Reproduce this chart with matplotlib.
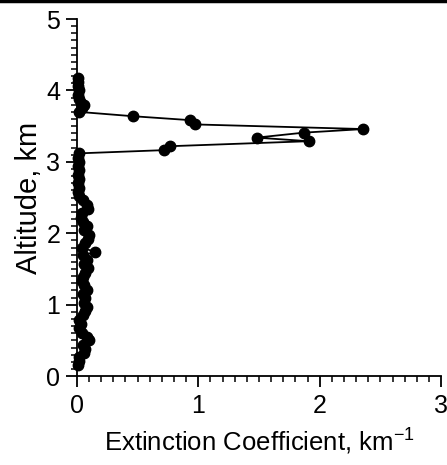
import matplotlib.pyplot as plt
from matplotlib.ticker import MultipleLocator

plt.rcParams['font.family'] = ['Liberation Sans', 'DejaVu Sans']

# altitude (km), bottom to top
altitude = [0.15, 0.21, 0.27, 0.33, 0.38, 0.44, 0.50, 0.55, 0.61, 0.67,
            0.73, 0.79, 0.85, 0.91, 0.97, 1.03, 1.09, 1.15, 1.21, 1.27,
            1.33, 1.39, 1.45, 1.51, 1.57, 1.63, 1.69, 1.74, 1.80, 1.86,
            1.92, 1.98, 2.04, 2.10, 2.16, 2.22, 2.28, 2.34, 2.40, 2.46,
            2.52, 2.58, 2.64, 2.70, 2.76, 2.82, 2.88, 2.94, 3.00, 3.06,
            3.12, 3.165, 3.22, 3.29, 3.34, 3.41, 3.46, 3.525, 3.585, 3.64,
            3.70, 3.76, 3.80, 3.83, 3.88, 3.94, 4.00, 4.06, 4.12, 4.18]
# extinction coefficient (km^-1)
extinction = [0.01, 0.02, 0.02, 0.06, 0.07, 0.05, 0.10, 0.08, 0.04, 0.02,
              0.03, 0.02, 0.05, 0.07, 0.08, 0.06, 0.07, 0.05, 0.08, 0.06,
              0.04, 0.05, 0.07, 0.09, 0.06, 0.08, 0.05, 0.15, 0.04, 0.07,
              0.09, 0.10, 0.06, 0.08, 0.05, 0.03, 0.04, 0.09, 0.08, 0.05,
              0.02, 0.01, 0.02, 0.01, 0.02, 0.01, 0.02, 0.01, 0.02, 0.01,
              0.02, 0.72, 0.77, 1.91, 1.48, 1.87, 2.36, 0.97, 0.93, 0.46,
              0.02, 0.04, 0.06, 0.03, 0.02, 0.01, 0.02, 0.01, 0.01, 0.01]

fig = plt.figure(figsize=(4.47, 4.65), dpi=100)
ax = fig.add_axes([0.172, 0.191, 0.815, 0.768])

ax.plot(extinction, altitude, color='black', lw=1.3, marker='o', ms=7.5,
        clip_on=False, zorder=3)

ax.set_xlim(0, 3)
ax.set_ylim(0, 5)
ax.xaxis.set_major_locator(MultipleLocator(1))
ax.xaxis.set_minor_locator(MultipleLocator(0.1))
ax.yaxis.set_major_locator(MultipleLocator(1))
ax.yaxis.set_minor_locator(MultipleLocator(0.1))

ax.spines['top'].set_visible(False)
ax.spines['right'].set_visible(False)
ax.spines['left'].set_linewidth(1.3)
ax.spines['bottom'].set_linewidth(1.3)
ax.tick_params(which='major', direction='out', length=8, width=1.3, labelsize=18)
ax.tick_params(axis='x', which='major', pad=5)
ax.tick_params(axis='y', which='major', pad=4)
ax.tick_params(which='minor', direction='out', length=4.5, width=1.1)

ax.set_xlabel('Extinction Coefficient, km$^{\\mathregular{-1}}$', fontsize=18.5, labelpad=5)
ax.set_ylabel('Altitude, km', fontsize=21, labelpad=2)

# black border line at top of the image
fig.add_artist(plt.Line2D([0, 1], [0.997, 0.997], color='black', lw=2.5,
                          transform=fig.transFigure))

fig.savefig('out.png', dpi=100)
